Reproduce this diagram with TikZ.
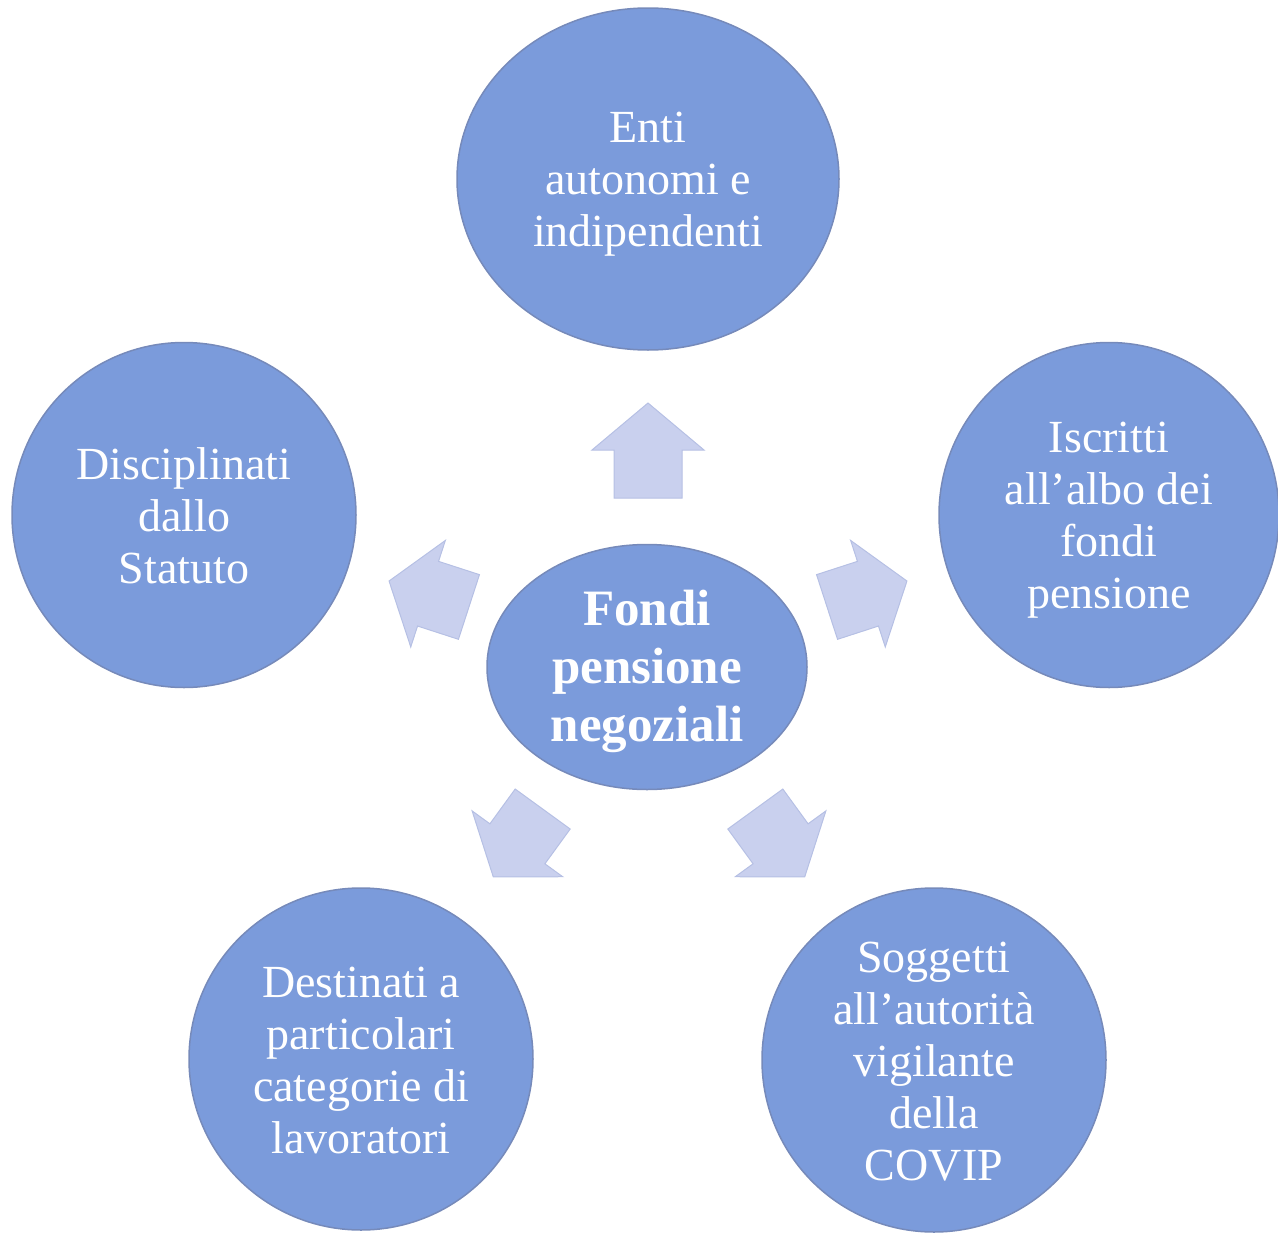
\documentclass[tikz,border=0pt]{standalone}
\usepackage{fontspec}
\setmainfont{Liberation Serif}
\usetikzlibrary{shapes.geometric}
\definecolor{circfill}{RGB}{123,155,219}
\definecolor{circedge}{RGB}{118,138,186}
\definecolor{circrim}{RGB}{140,170,228}
\definecolor{arrfill}{RGB}{201,208,238}
\definecolor{arredge}{RGB}{182,192,228}
\tikzset{
  bubble/.style={ellipse, fill=circfill, draw=circedge, line width=1.5pt, inner sep=0pt},
  btext/.style={align=center, text=white, inner sep=0pt, font=\fontsize{46}{52}\selectfont},
  hubtext/.style={btext, font=\fontsize{51}{58}\selectfont\bfseries},
  blockarrow/.style={fill=arrfill, draw=arredge, line width=1pt, line join=miter}
}
\newcommand\blkarrow[5]{%
  \begin{scope}[shift={(#1,#2)}, rotate=#3]
    \pgfmathsetmacro\arrR{-(#4+#5)/2}
    \pgfmathsetmacro\arrN{\arrR+#4}
    \pgfmathsetmacro\arrT{(#4+#5)/2}
    \draw[blockarrow] (\arrR,-34) -- (\arrN,-34) -- (\arrN,-56) -- (\arrT,0)
      -- (\arrN,56) -- (\arrN,34) -- (\arrR,34) -- cycle;
  \end{scope}}
\begin{document}
\begin{tikzpicture}[x=1pt,y=-1pt]
\useasboundingbox (0,0) rectangle (1278,1234);
% arrows
\blkarrow{648}{450.5}{90}{48}{47}
\blkarrow{429}{594}{162}{43}{41}
\blkarrow{867}{594}{18}{43}{41}
\blkarrow{518}{843}{234}{43}{41}
\blkarrow{780}{843}{306}{43}{41}
% bubbles
\node[bubble, minimum width=320pt, minimum height=245pt] (hub) at (647,667) {};
\node[bubble, minimum width=382pt, minimum height=342pt] (top) at (648,179) {};
\node[bubble, minimum width=344pt, minimum height=345pt] (left) at (184,515) {};
\node[bubble, minimum width=340pt, minimum height=345pt] (right) at (1109,515) {};
\node[bubble, minimum width=344pt, minimum height=342pt] (bl) at (361,1059) {};
\node[bubble, minimum width=344pt, minimum height=344pt] (br) at (934,1060) {};
% texts
\node[hubtext, yshift=-4pt] (hubT) at (hub.center) {Fondi\\pensione\\negoziali};
\node[btext, yshift=-5pt] (topT) at (top.center) {Enti\\autonomi e\\indipendenti};
\node[btext, yshift=-1pt] (leftT) at (left.center) {Disciplinati\\dallo\\Statuto};
\node[btext, yshift=-5pt] (rightT) at (right.center) {Iscritti\\all’albo dei\\fondi\\pensione};
\node[btext, yshift=-1pt] (blT) at (bl.center) {Destinati a\\particolari\\categorie di\\lavoratori};
\node[btext, yshift=-2pt] (brT) at (br.center) {Soggetti\\all’autorità\\vigilante\\della\\COVIP};
\end{tikzpicture}
\end{document}
